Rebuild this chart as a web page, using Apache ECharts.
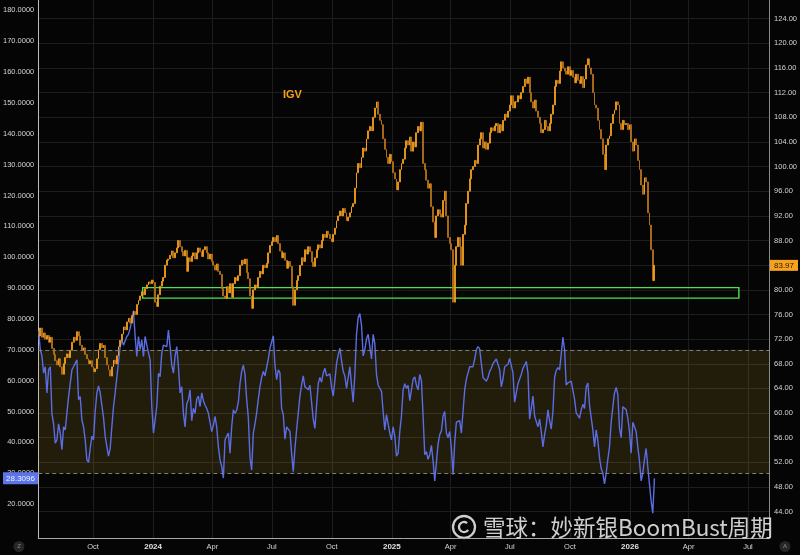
<!DOCTYPE html>
<html><head><meta charset="utf-8">
<script src="https://cdn.jsdelivr.net/npm/echarts@6/dist/echarts.min.js"></script>
<style>html,body{margin:0;padding:0;background:#050505;}#c{width:800px;height:555px;}</style>
</head><body><div id="c"></div>
<script>
// ---------- data ----------
const firstBar = [2023, 7, 9, 12];       // y, m, d, h (local)
const stepDays = 2.5516;                 // spacing of samples in days
const axisStart = [2023, 7, 9, 0];
const axisEnd = [2026, 8, 2, 7];
const xTickDates = ['2023-10-01','2024-01-01','2024-04-01','2024-07-01','2024-10-01','2025-01-01','2025-04-01','2025-07-01','2025-10-01','2026-01-01','2026-04-01','2026-07-01'];
const monthNames = ['Jan','Feb','Mar','Apr','May','Jun','Jul','Aug','Sep','Oct','Nov','Dec'];
const priceTicks = [44,48,52,56,60,64,68,72,76,80,84,88,92,96,100,104,108,112,116,120,124];
const rsiTicks = [20,30,40,50,60,70,80,90,100,110,120,130,140,150,160,170,180];
const rsiBand = [30, 70];
const supportBox = { from: '2023-12-16', to: '2026-06-17', low: 78.65, high: 80.35 };
const seriesName = 'IGV';

const price = [
72.5,73.8,72.3,73.0,72.0,72.6,71.5,72.3,70.5,69.5,
68.5,67.8,68.8,67.5,66.3,68.0,69.0,69.6,69.0,70.2,
71.5,72.3,71.8,73.2,72.5,71.0,70.2,70.6,69.5,68.8,
68.0,68.5,67.5,66.7,67.2,68.8,70.3,71.3,70.6,71.0,
69.0,67.8,67.0,66.0,67.5,68.6,68.0,69.3,70.8,71.8,
72.8,74.0,73.5,74.8,75.4,74.6,75.8,76.5,76.0,77.6,
78.3,79.0,79.7,79.2,80.2,80.8,81.3,81.0,81.6,81.2,
78.0,77.3,79.2,80.6,81.4,82.0,84.0,84.8,85.0,85.6,
86.3,85.2,86.0,86.8,88.0,87.0,86.2,85.5,86.4,83.0,
85.2,84.6,85.5,86.0,85.0,86.0,86.8,86.2,85.4,86.5,
87.0,86.0,85.0,85.8,84.6,84.0,83.2,84.2,83.0,82.5,
80.2,79.0,78.6,80.5,79.5,81.0,78.8,81.0,82.0,81.5,
82.3,84.0,84.8,84.2,85.0,82.8,81.8,79.0,77.0,80.0,
80.8,80.4,82.0,83.0,82.6,84.0,83.6,84.3,86.0,87.2,
87.8,88.5,87.8,88.8,87.5,86.3,85.2,86.0,84.8,83.5,
84.6,83.8,80.5,77.5,80.0,81.5,82.3,84.0,85.2,84.6,
86.5,85.8,87.0,86.2,84.5,83.8,85.2,86.5,87.3,86.8,
88.0,89.0,88.5,89.5,89.0,88.3,87.8,89.0,90.0,91.2,
92.0,92.8,92.0,93.2,92.5,91.2,91.8,92.5,93.5,94.0,
96.5,99.0,100.5,99.8,101.5,103.0,102.5,104.5,105.8,106.5,
105.8,108.0,109.5,110.5,108.5,107.5,106.8,104.5,102.8,101.5,
100.5,102.0,100.8,99.0,98.0,96.2,97.5,99.5,100.5,101.2,
103.0,104.2,103.5,104.8,102.5,104.0,103.2,105.5,106.5,105.8,
107.2,100.5,99.5,97.8,96.5,97.2,93.5,91.0,88.5,92.0,
93.0,92.3,91.8,94.5,96.0,92.0,88.5,87.5,86.5,78.0,
84.0,87.0,88.5,87.0,84.0,89.0,90.5,94.0,96.0,98.0,
99.5,100.0,101.0,100.5,103.5,104.5,105.5,103.0,104.0,102.8,
103.8,105.5,106.3,105.8,106.6,107.0,105.5,106.8,105.8,107.5,
108.5,108.0,109.0,110.0,111.5,109.5,110.5,110.5,111.5,111.0,
112.0,113.0,114.2,113.5,114.5,112.0,110.5,109.5,110.8,109.0,
108.0,107.0,105.5,106.0,107.5,106.5,105.8,107.0,108.5,110.0,
113.0,114.0,113.5,115.5,117.0,116.0,115.5,115.0,116.2,114.8,
115.6,114.5,113.6,115.0,114.0,113.5,114.6,112.8,114.2,116.5,
117.5,116.0,115.0,112.0,110.0,109.5,107.5,106.0,104.5,102.0,
99.5,103.5,104.5,105.0,107.0,108.5,109.2,110.5,110.0,107.0,
106.0,107.5,106.8,107.0,106.0,106.8,104.0,102.5,104.5,103.5,
101.0,99.5,97.0,95.5,98.2,97.5,92.5,90.5,86.5,81.5,
83.97];

const rsi = [
76,70,68,62.4,64.5,56,63.5,64.5,49.4,46,
39.7,40.8,46,43,37.6,45,44,49.4,54.8,59,
63.5,64.5,65.6,66.7,53.8,54.8,47.3,45,40.8,34.3,
33.5,38,42,40.8,50,56,58.3,56,52,48,
42,38.6,35.5,38,45,51.6,56,61,66,71,
73.2,71.5,72,74.3,75,77,79.7,82.7,74.3,67.8,
74.3,70,73.2,67.8,74.3,71.5,69,66.7,51.6,43,
42.4,51.6,62.4,61.3,68.9,71.5,72,71,76.4,71,
65,62.4,68,71,64.5,56,58,49.4,45,52.5,
53.8,57,47,51,49.4,54,55,51.6,56,53.5,
52,51,49.4,46.5,43.5,45.5,48.4,45,38.6,34.3,
32.2,28.4,40.8,42,43,36.5,45,50.5,49.4,50.4,
53,59,63,65,62,54,48,35,31,43,
46,49.5,54,58,61,63,61.5,61.2,67,70.5,
72.5,74.5,65,60.3,63.5,62.5,51,49,41,45,
45.5,43.5,36.5,30.5,38,44,49.5,55,58.5,61.5,
58,57.5,57,58.5,53,47.5,44.5,52,59,61,
59.5,62.5,64,61.5,62,62.2,58,55,60,65.5,
68.3,70.5,66.5,63,61.5,57.5,57.5,64.5,58.5,53,
62,75,80.5,81.7,78,68,70,73.5,75,71,
67,75,72,62,58.5,58.8,56.5,50,44,49,
49.5,43,40.8,45,42,35.5,36.5,43.5,48.5,57,
59,57.5,58.5,53.5,57,60.5,61.2,58.5,57,62,
60,48.5,36,37,34.5,36,39,34,27.5,33.5,
39.5,42.5,43.7,48.5,50,43,41.5,43.5,38,29.5,
40,46.5,46.5,47,43,50,57,60.5,62.5,64.5,
64,64.5,67,70,71,70.3,65.5,61,60.8,59.8,
61,63,64,65.5,66,67,66.8,63.5,58,60.5,
64.5,64,65.3,67.2,67,62.5,53,52.5,59,60.5,
62,64,65,66.2,62.5,47.5,51,55,48.5,48,
45,47.5,43.5,38.5,42.5,45.5,50.5,47,44.3,50,
61,63.3,64.2,63.5,68.5,74,70,58.5,59.3,59.2,
59.8,56.8,54,49.5,50,47.8,50.5,52.3,51,58,
59.2,52,51.5,44,38.5,44,40.5,35,31.5,30,
26.5,30,34.5,38.5,46.5,51.5,56,57.8,55.5,44.5,
41.5,51.5,52,50.6,47.8,43.5,36.5,46.5,46.5,43.5,
38.5,34,27.5,30,34.5,38,32,26.5,21,17,
28.3096];

// ---------- build ----------
const toTime = a => new Date(a[0], a[1] - 1, a[2], a[3] || 0).getTime();
const parseDay = s => { const p = s.split('-').map(Number); return new Date(p[0], p[1] - 1, p[2]).getTime(); };
const t0 = toTime(firstBar);
const times = price.map((_, i) => t0 + i * stepDays * 86400000);
const candles = price.map((c, i) => {
  const o = i === 0 ? c : price[i - 1];
  return [times[i], o, c, Math.min(o, c), Math.max(o, c)];
});
const rsiData = rsi.map((v, i) => [times[i], v]);
const xTicks = xTickDates.map(parseDay);

const chart = echarts.init(document.getElementById('c'), null, { renderer: 'canvas' });
const FONT = 'Liberation Sans';
const labelColor = '#d4d4d4';

chart.setOption({
  backgroundColor: '#050505',
  animation: false,
  grid: { left: 38, right: 30, top: 0, bottom: 17, containLabel: false },
  xAxis: {
    type: 'value', min: toTime(axisStart), max: toTime(axisEnd), scale: true,
    axisLine: { show: true, onZero: false, lineStyle: { color: '#a8a8a8', width: 1 } },
    axisTick: { show: false, customValues: xTicks },
    axisLabel: {
      customValues: xTicks, color: labelColor, fontSize: 7.5, fontFamily: FONT, margin: 5,
      formatter: v => { const d = new Date(v); return d.getMonth() === 0 ? '{y|' + d.getFullYear() + '}' : monthNames[d.getMonth()]; },
      rich: { y: { fontSize: 8, fontWeight: 'bold', color: '#e2e2e2', fontFamily: FONT } }
    },
    splitLine: { show: true, lineStyle: { color: '#1d1d1d', width: 1 } }
  },
  yAxis: [
    {
      type: 'value', position: 'left', min: 8.98, max: 183.37,
      axisLine: { show: true, onZero: false, lineStyle: { color: '#bdbdbd', width: 1 } },
      axisTick: { show: false, customValues: rsiTicks },
      axisLabel: { customValues: rsiTicks, formatter: v => v.toFixed(4), color: labelColor, fontSize: 7.5, fontFamily: FONT, margin: 4 },
      splitLine: { show: false }
    },
    {
      type: 'value', position: 'right', min: 39.73, max: 127.03,
      axisLine: { show: true, onZero: false, lineStyle: { color: '#8a8a8a', width: 1 } },
      axisTick: { show: false, customValues: priceTicks },
      axisLabel: { customValues: priceTicks, formatter: v => v.toFixed(2), color: labelColor, fontSize: 7.5, fontFamily: FONT, margin: 5 },
      splitLine: { show: true, lineStyle: { color: '#1d1d1d', width: 1 } }
    }
  ],
  series: [
    {
      name: 'RSI', type: 'line', yAxisIndex: 0, data: rsiData, showSymbol: false, z: 2,
      lineStyle: { color: '#5b6de4', width: 1.4 }, itemStyle: { color: '#5b6de4' },
      markArea: { silent: true, itemStyle: { color: 'rgba(245,200,50,0.12)' }, data: [[{ yAxis: rsiBand[0] }, { yAxis: rsiBand[1] }]] },
      markLine: { silent: true, symbol: 'none', label: { show: false },
        lineStyle: { color: '#7e7e7e', type: [4, 3], width: 1 },
        data: [{ yAxis: rsiBand[0] }, { yAxis: rsiBand[1] }] }
    },
    {
      name: seriesName, type: 'candlestick', xAxisIndex: 0, yAxisIndex: 1, z: 3,
      data: candles, encode: { x: 0, y: [1, 2, 3, 4] }, barWidth: 1.4,
      itemStyle: { color: '#f7a21e', color0: '#b9741a', borderColor: '#f7a21e', borderColor0: '#b9741a', borderWidth: 0.8 }
    },
    {
      name: 'box', type: 'line', yAxisIndex: 1, data: [], z: 4,
      markArea: { silent: true,
        itemStyle: { color: 'rgba(0,0,0,0)', borderColor: '#4fe24f', borderWidth: 1.4 },
        data: [[{ coord: [parseDay(supportBox.from), supportBox.high] }, { coord: [parseDay(supportBox.to), supportBox.low] }]] }
    }
  ]
});

const lastP = price[price.length - 1];
const lastR = rsi[rsi.length - 1];
const yP = chart.convertToPixel({ yAxisIndex: 1 }, lastP);
const yR = chart.convertToPixel({ yAxisIndex: 0 }, lastR);

chart.setOption({
  graphic: [
    { type: 'text', left: 283, top: 89, style: { text: seriesName, fill: '#f5a11c', font: 'bold 11px ' + FONT } },
    { type: 'rect', shape: { x: 770, y: yP - 5.5, width: 28, height: 11 }, style: { fill: '#f6a21f' }, z: 10 },
    { type: 'text', x: 784, y: yP, style: { text: lastP.toFixed(2), fill: '#2a1a00', font: '8px ' + FONT, align: 'center', verticalAlign: 'middle' }, z: 11 },
    { type: 'rect', shape: { x: 3, y: yR - 6, width: 35, height: 12 }, style: { fill: '#5b74ea' }, z: 10 },
    { type: 'text', x: 20.5, y: yR, style: { text: lastR.toFixed(4), fill: '#eef2ff', font: '8px ' + FONT, align: 'center', verticalAlign: 'middle' }, z: 11 },
    { type: 'circle', shape: { cx: 19, cy: 546.5, r: 5.5 }, style: { fill: '#262626' } },
    { type: 'text', x: 19, y: 546.5, style: { text: 'Z', fill: '#8a8a8a', font: '6px ' + FONT, align: 'center', verticalAlign: 'middle' } },
    { type: 'circle', shape: { cx: 785, cy: 546.5, r: 5.5 }, style: { fill: '#262626' } },
    { type: 'text', x: 785, y: 546.5, style: { text: 'A', fill: '#8a8a8a', font: '6px ' + FONT, align: 'center', verticalAlign: 'middle' } },
    { type: 'circle', shape: { cx: 464, cy: 527, r: 11 }, style: { fill: 'none', stroke: 'rgba(235,235,235,0.88)', lineWidth: 2.3 } },
    { type: 'arc', shape: { cx: 464, cy: 527, r: 5, startAngle: 0.6, endAngle: 5.4 }, style: { fill: 'none', stroke: 'rgba(235,235,235,0.88)', lineWidth: 2.3 } },
    { type: 'text', x: 483, y: 527, style: { text: '雪球：妙新银BoomBust周期', fill: 'rgba(235,235,235,0.88)', font: '22.5px "Noto Sans CJK SC"', verticalAlign: 'middle' }, z: 20 }
  ]
});
</script></body></html>
